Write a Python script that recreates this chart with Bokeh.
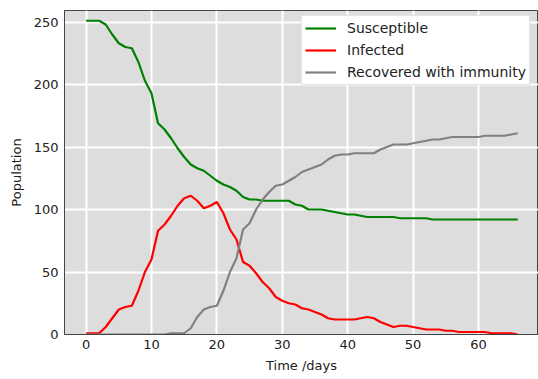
from bokeh.plotting import figure
from bokeh.models import Range1d, Legend, LegendItem, FixedTicker
from bokeh.embed import file_html
from bokeh.resources import INLINE

days = list(range(0, 67))

susceptible = [251, 251, 251, 248, 240, 233, 230, 229, 218, 203,
               193, 169, 164, 157, 149, 142, 136, 133, 131, 127,
               123, 120, 118, 115, 110, 108, 108, 107, 107, 107,
               107, 107, 104, 103, 100, 100, 100, 99, 98, 97,
               96, 96, 95, 94, 94, 94, 94, 94, 93, 93,
               93, 93, 93, 92, 92, 92, 92, 92, 92, 92,
               92, 92, 92, 92, 92, 92, 92]

infected = [1, 1, 1, 6, 13, 20, 22, 23, 35, 50,
            60, 83, 88, 95, 103, 109, 111, 107, 101, 103,
            106, 97, 84, 76, 58, 55, 49, 42, 37, 30,
            27, 25, 24, 21, 20, 18, 16, 13, 12, 12,
            12, 12, 13, 14, 13, 10, 8, 6, 7, 7,
            6, 5, 4, 4, 4, 3, 3, 2, 2, 2,
            2, 2, 1, 1, 1, 1, 0]

recovered = [0, 0, 0, 0, 0, 0, 0, 0, 0, 0,
             0, 0, 0, 1, 1, 1, 5, 14, 20, 22,
             23, 35, 50, 61, 84, 89, 100, 108, 114, 119,
             120, 123, 126, 130, 132, 134, 136, 140, 143, 144,
             144, 145, 145, 145, 145, 148, 150, 152, 152, 152,
             153, 154, 155, 156, 156, 157, 158, 158, 158, 158,
             158, 159, 159, 159, 159, 160, 161]

x_ticks = [0, 10, 20, 30, 40, 50, 60]
y_ticks = [0, 50, 100, 150, 200, 250]

FONT = "DejaVu Sans"
TXT = "#222222"

p = figure(width=538, height=379, output_backend="svg", toolbar_location=None,
           x_range=Range1d(-3.3, 69.18), y_range=Range1d(0, 259.2),
           min_border_left=64, min_border_right=0, min_border_top=10, min_border_bottom=45)

p.background_fill_color = "#dddddd"
p.border_fill_color = "white"
p.outline_line_color = "#444444"
p.outline_line_width = 1

for g in (p.xgrid, p.ygrid):
    g.grid_line_color = "white"
    g.grid_line_width = 2

p.xaxis.ticker = FixedTicker(ticks=x_ticks)
p.yaxis.ticker = FixedTicker(ticks=y_ticks)
for ax in (p.xaxis, p.yaxis):
    ax.axis_line_color = "#444444"
    ax.major_tick_line_color = None
    ax.minor_tick_line_color = None
    ax.major_tick_out = 0
    ax.major_tick_in = 0
    ax.minor_tick_out = 0
    ax.major_label_text_font = FONT
    ax.major_label_text_font_size = "13px"
    ax.major_label_text_color = TXT
    ax.axis_label_text_font = FONT
    ax.axis_label_text_font_size = "13px"
    ax.axis_label_text_font_style = "normal"
    ax.axis_label_text_color = TXT

p.xaxis.axis_label = "Time /days"
p.yaxis.axis_label = "Population"
p.xaxis.major_label_standoff = 5
p.xaxis.axis_label_standoff = 6
p.yaxis.major_label_standoff = 6
p.yaxis.axis_label_standoff = 7

r1 = p.line(days, susceptible, line_color="green", line_width=2.2)
r2 = p.line(days, infected, line_color="red", line_width=2.2)
r3 = p.line(days, recovered, line_color="grey", line_width=2.2)

legend = Legend(items=[LegendItem(label="Susceptible", renderers=[r1]),
                       LegendItem(label="Infected", renderers=[r2]),
                       LegendItem(label="Recovered with immunity", renderers=[r3])],
                location=(237, 249))
legend.label_text_font = FONT
legend.label_text_font_size = "14px"
legend.label_text_color = TXT
legend.glyph_width = 31
legend.glyph_height = 18
legend.label_height = 18
legend.label_standoff = 11
legend.spacing = 4
legend.padding = 3
legend.margin = 0
legend.border_line_color = "#cccccc"
legend.border_line_width = 1
legend.background_fill_color = "white"
legend.background_fill_alpha = 1.0
p.add_layout(legend)

open("out.html", "w").write(file_html(p, INLINE))
